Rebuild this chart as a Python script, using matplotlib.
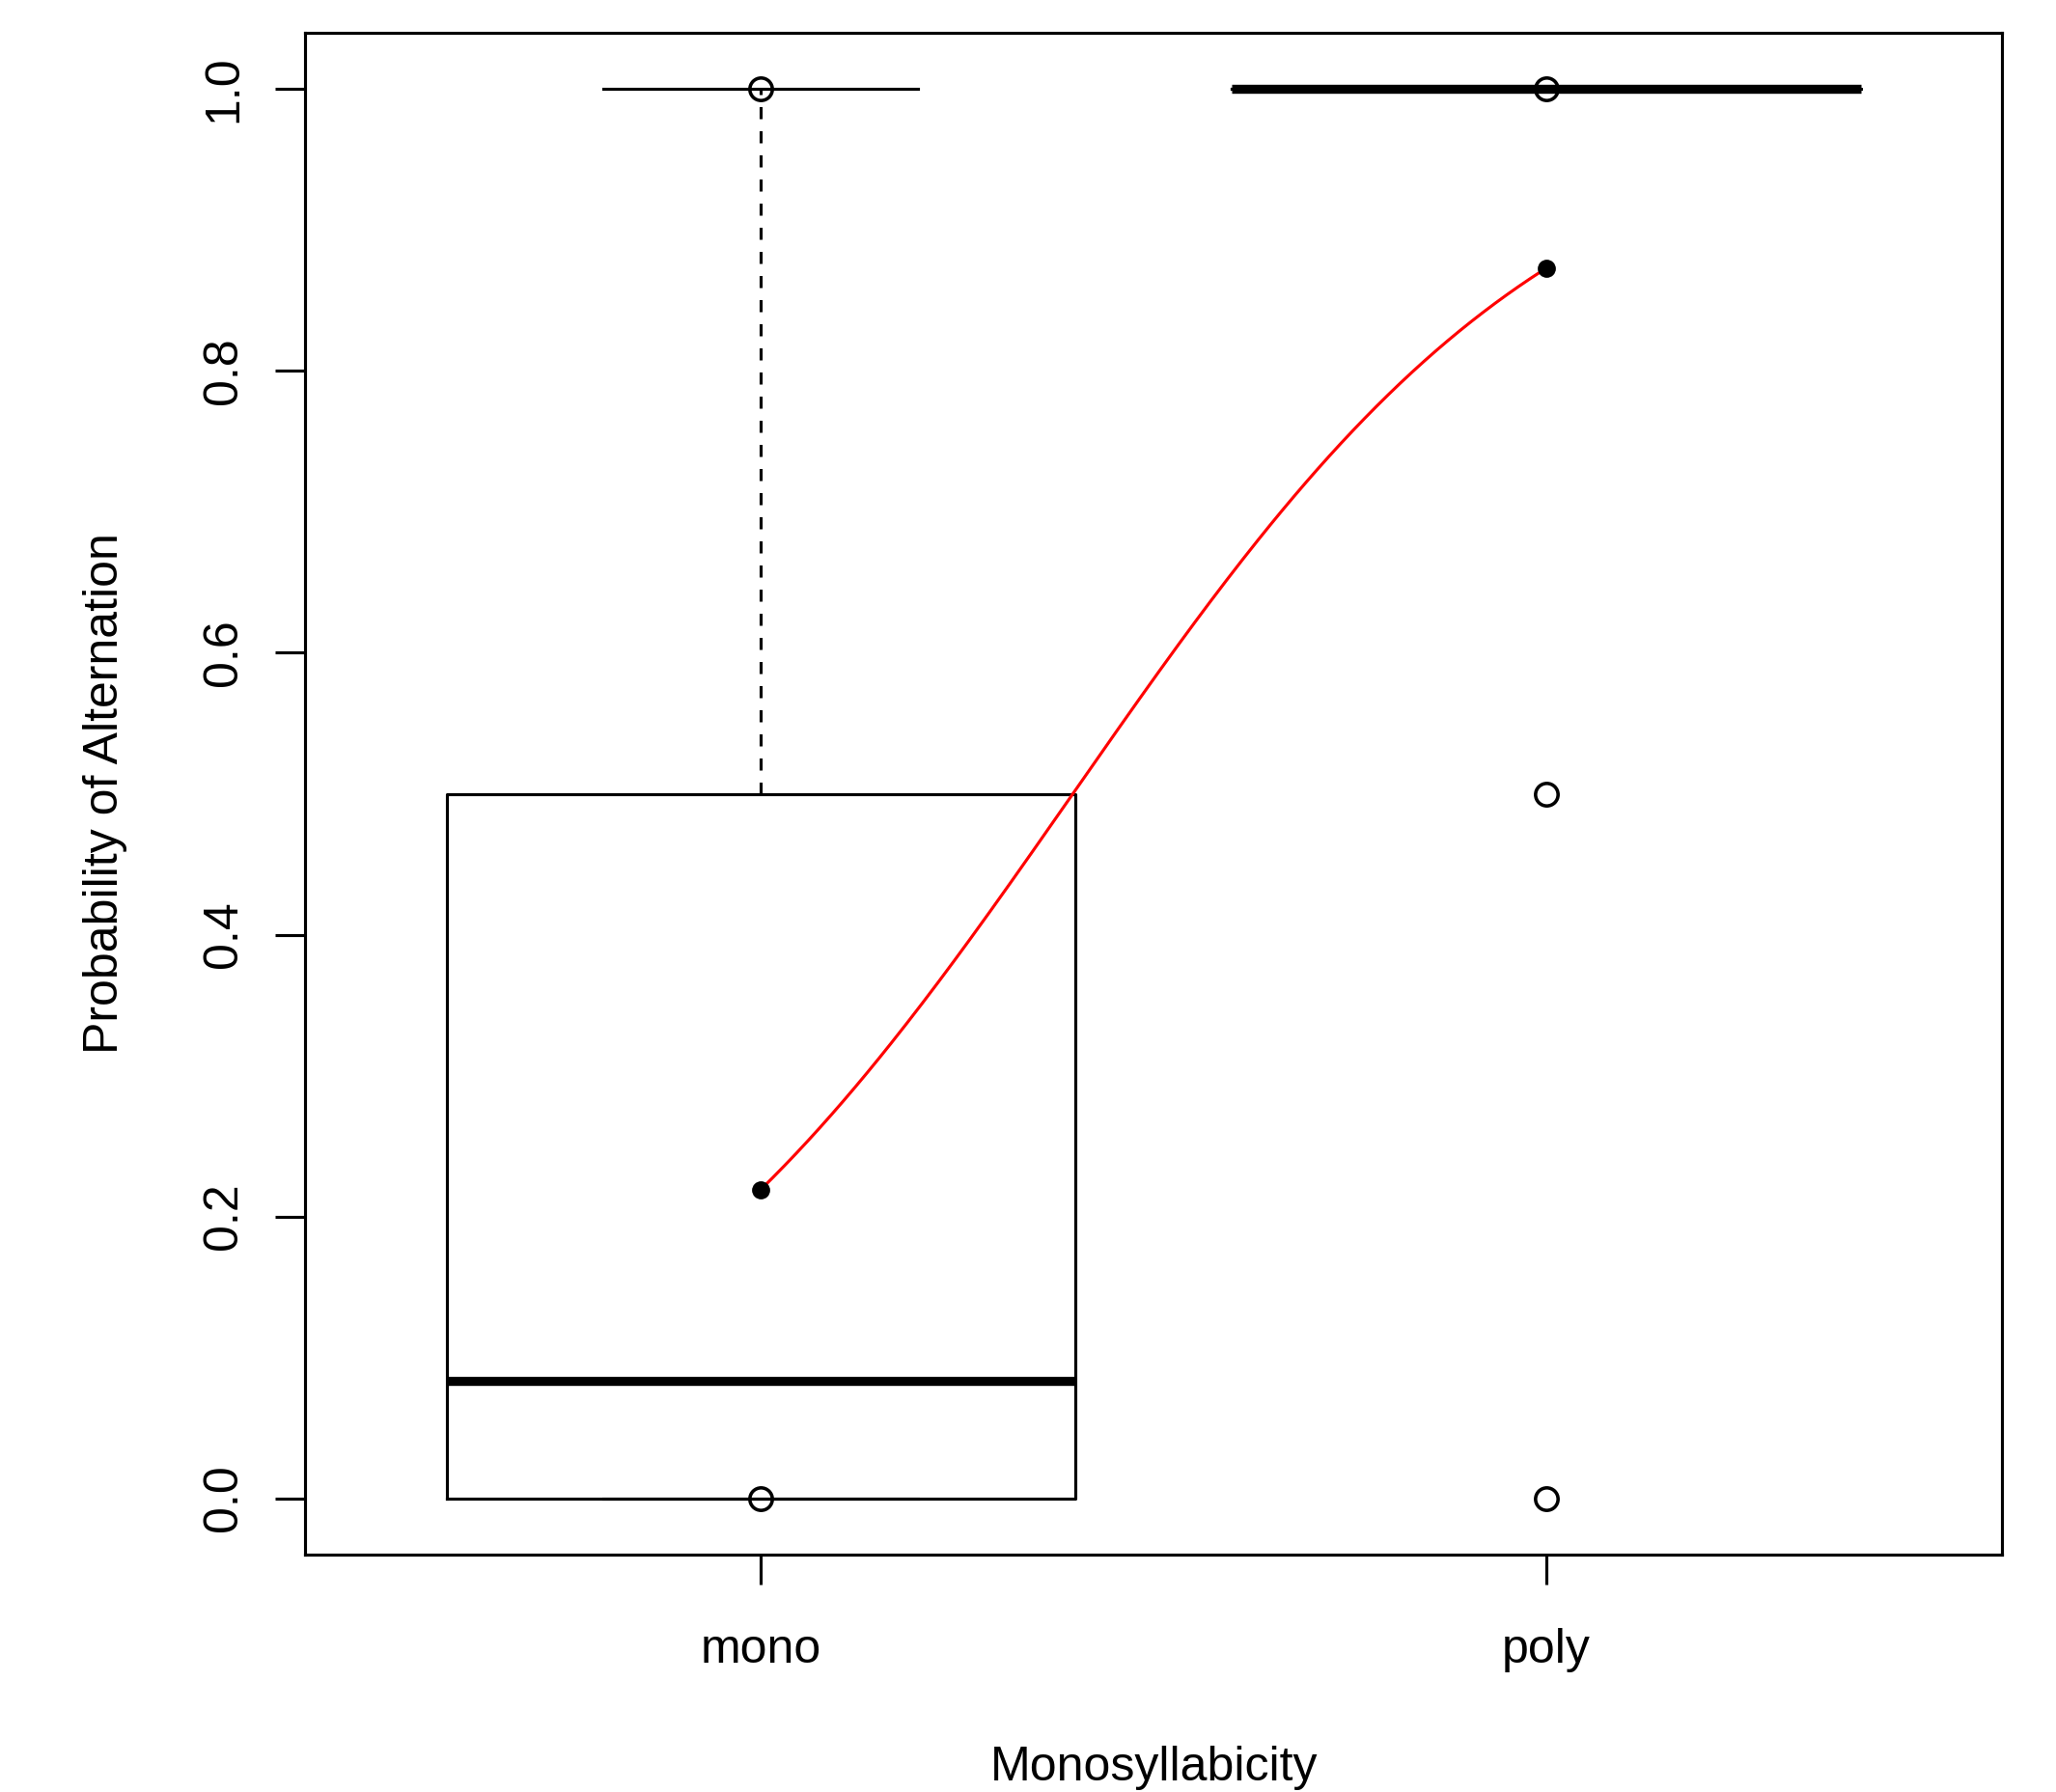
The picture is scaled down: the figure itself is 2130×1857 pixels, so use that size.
import matplotlib
matplotlib.use("Agg")
import matplotlib.pyplot as plt
import numpy as np

plt.rcParams['font.family'] = ['Liberation Sans', 'DejaVu Sans']

# Groups and box statistics (lower whisker, Q1, median, Q3, upper whisker)
groups = ['mono', 'poly']
positions = [1, 2]
box_stats = [
    [0.0, 0.0, 0.083, 0.5, 1.0],
    [1.0, 1.0, 1.0, 1.0, 1.0],
]

# Observed points drawn as open circles
obs_mono = [0.0, 1.0]
obs_poly = [0.0, 0.5, 1.0]

# Fitted probabilities (filled dots), joined by a curve on the logit scale
fitted_prob = [0.219, 0.873]

y_ticks = [0.0, 0.2, 0.4, 0.6, 0.8, 1.0]
y_tick_labels = ['0.0', '0.2', '0.4', '0.6', '0.8', '1.0']

lw = 0.75

fig = plt.figure(figsize=(7.1, 6.19), dpi=300)
ax = fig.add_axes([0.14836, 0.13247, 0.82535, 0.84922])

# boxes drawn R-style
for pos, (lo, q1, med, q3, hi) in zip(positions, box_stats):
    hw = 0.4
    ax.plot([pos - hw, pos + hw, pos + hw, pos - hw, pos - hw],
            [q1, q1, q3, q3, q1], color='black', lw=lw, zorder=2)
    ax.plot([pos - hw, pos + hw], [med, med], color='black', lw=3 * lw,
            solid_capstyle='butt', zorder=3)
    if hi > q3:
        ax.plot([pos, pos], [q3, hi], color='black', lw=lw, ls=(0, (4, 4)), zorder=2)
    if lo < q1:
        ax.plot([pos, pos], [lo, q1], color='black', lw=lw, ls=(0, (4, 4)), zorder=2)
    ax.plot([pos - hw / 2, pos + hw / 2], [hi, hi], color='black', lw=lw, zorder=2)
    ax.plot([pos - hw / 2, pos + hw / 2], [lo, lo], color='black', lw=lw, zorder=2)

ax.plot([1] * len(obs_mono), obs_mono, 'o', mfc='none', mec='black', mew=0.85,
        ms=5.6, zorder=4)
ax.plot([2] * len(obs_poly), obs_poly, 'o', mfc='none', mec='black', mew=0.85,
        ms=5.6, zorder=4)

# fitted curve, straight on the logit scale between the two fitted values
logit = np.log(np.array(fitted_prob) / (1 - np.array(fitted_prob)))
xs = np.linspace(positions[0], positions[1], 200)
ls_ = np.interp(xs, positions, logit)
ax.plot(xs, 1 / (1 + np.exp(-ls_)), color='red', lw=lw, zorder=5)
ax.plot(positions, fitted_prob, 'o', color='black', ms=4.5, mew=0, zorder=6)

ax.set_xlim(0.42, 2.58)
ax.set_ylim(-0.04, 1.04)

ax.set_xticks(positions, groups, va='baseline', fontsize=12)
ax.set_yticks(y_ticks, y_tick_labels, rotation=90, rotation_mode='anchor',
              ha='center', va='baseline', fontsize=12)
ax.tick_params(axis='x', direction='out', length=7.4, width=lw, pad=19.4)
ax.tick_params(axis='y', direction='out', length=7.4, width=lw, pad=9.6)
for s in ax.spines.values():
    s.set_linewidth(lw)

fig.text(1196 / 2130, (1857 - 1845) / 1857, 'Monosyllabicity', ha='center',
         va='baseline', fontsize=12)
fig.text(122 / 2130, (1857 - 822) / 1857, 'Probability of Alternation',
         rotation=90, rotation_mode='anchor', ha='center', va='baseline',
         fontsize=12)

fig.savefig('out.png', dpi=300)
